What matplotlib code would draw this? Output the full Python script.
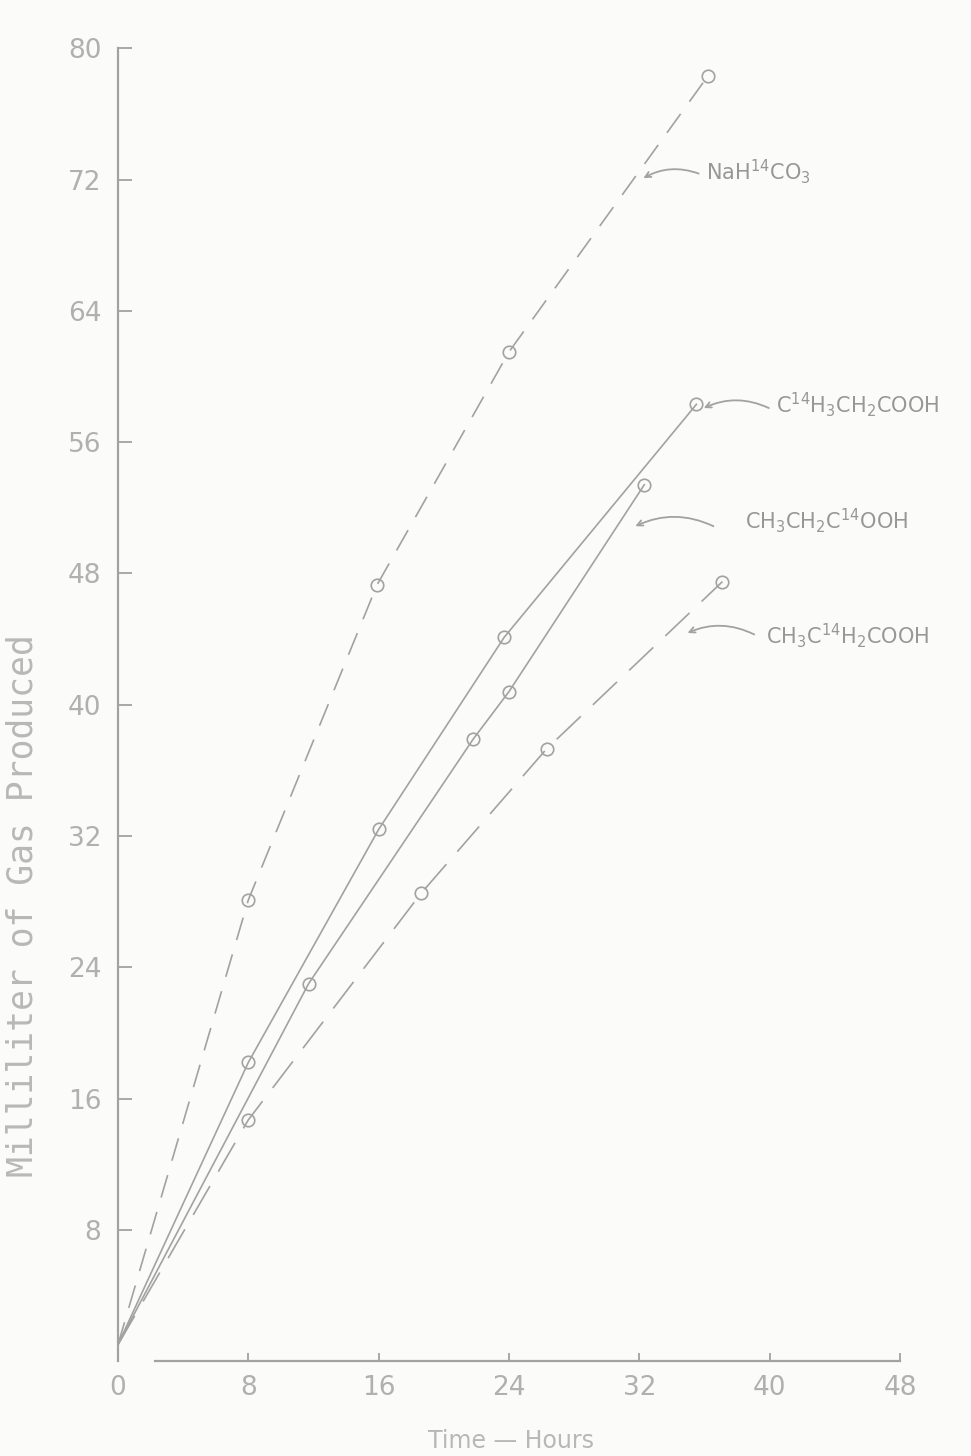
import matplotlib.pyplot as plt

# data (hours, ml of gas)
na_x = [0, 8.0, 15.9, 24.0, 36.2]
na_y = [1.0, 28.1, 47.3, 61.5, 78.3]

c1_x = [0, 8.0, 16.0, 23.7, 35.5]
c1_y = [1.0, 18.2, 32.4, 44.1, 58.3]

c3_x = [0, 11.7, 21.8, 24.0, 32.3]
c3_y = [1.0, 23.0, 37.9, 40.8, 53.4]

c2_x = [0, 8.0, 18.6, 26.3, 37.1]
c2_y = [1.0, 14.7, 28.5, 37.3, 47.5]

x_ticks = [0, 8, 16, 24, 32, 40, 48]
y_ticks = [8, 16, 24, 32, 40, 48, 56, 64, 72, 80]

gray = "#a2a2a2"
txt = "#b0b0b0"

fig = plt.figure(figsize=(9.71, 14.56), dpi=100)
fig.patch.set_facecolor("#fbfbfa")
ax = fig.add_axes([0.1215, 0.0652, 0.8105, 0.9073])
ax.set_facecolor("#fbfbfa")

mk = dict(marker="o", markersize=9, markerfacecolor="none",
          markeredgecolor=gray, markeredgewidth=1.2, color=gray, linewidth=1.2)

ax.plot(na_x, na_y, dashes=(14, 9), markevery=[1, 2, 3, 4], **mk)
ax.plot(c1_x, c1_y, linestyle="-", markevery=[1, 2, 3, 4], **mk)
ax.plot(c3_x, c3_y, linestyle="-", markevery=[1, 2, 3, 4], **mk)
ax.plot(c2_x, c2_y, dashes=(20, 10), markevery=[1, 2, 3, 4], **mk)

ax.set_xlim(0, 48.3)
ax.set_ylim(0, 80.5)
ax.set_xticks(x_ticks)
ax.set_yticks(y_ticks)
ax.set_yticklabels([str(v) for v in y_ticks])

for s in ["top", "right"]:
    ax.spines[s].set_visible(False)
ax.spines["left"].set_color(gray)
ax.spines["bottom"].set_color(gray)
ax.spines["left"].set_linewidth(1.6)
ax.spines["bottom"].set_linewidth(1.6)
ax.spines["bottom"].set_bounds(2.3, 48)
ax.spines["left"].set_bounds(0, 80)

ax.tick_params(axis="both", direction="in", colors=gray, labelcolor=txt,
               labelsize=19, width=1.3)
ax.tick_params(axis="y", length=10, pad=12)
ax.tick_params(axis="x", length=6, pad=10)

ax.set_ylabel("Milliliter of Gas Produced", family="DejaVu Sans Mono",
              fontsize=25, color="#b8b8b8")
ax.yaxis.set_label_coords(-0.1, 0.345)
ax.set_xlabel("Time \u2014 Hours", fontsize=17, color="#b8b8b8", labelpad=20)

# curve labels with little arrows
arrow = dict(arrowstyle="->", color=gray, lw=1.3,
             connectionstyle="arc3,rad=0.25")
lab = dict(fontsize=15, color="#979797", va="center", ha="left")

ax.annotate("", xy=(32.1, 72.0), xytext=(35.8, 72.3), arrowprops=arrow)
ax.text(36.1, 72.5, r"NaH$^{14}$CO$_3$", **lab)

ax.annotate("", xy=(35.8, 58.0), xytext=(40.1, 58.0), arrowprops=arrow)
ax.text(40.4, 58.3, r"C$^{14}$H$_3$CH$_2$COOH", **lab)

ax.annotate("", xy=(31.6, 50.8), xytext=(36.7, 50.8), arrowprops=arrow)
ax.text(38.5, 51.2, r"CH$_3$CH$_2$C$^{14}$OOH", **lab)

ax.annotate("", xy=(34.8, 44.3), xytext=(39.2, 44.2), arrowprops=arrow)
ax.text(39.8, 44.2, r"CH$_3$C$^{14}$H$_2$COOH", **lab)

fig.savefig("out.png", dpi=100, facecolor=fig.get_facecolor())
